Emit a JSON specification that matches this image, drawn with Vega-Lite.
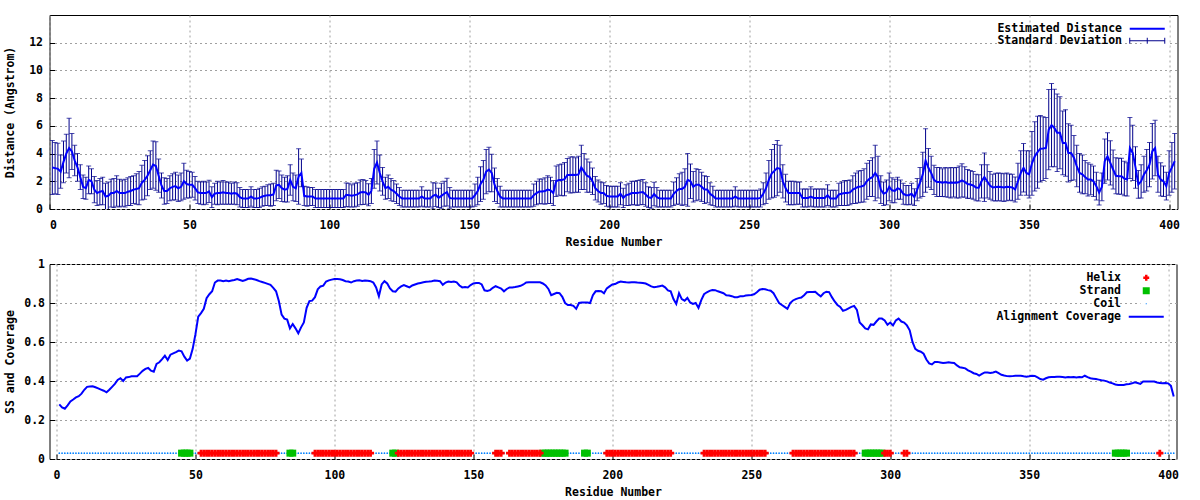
{
"$schema":"https://vega.github.io/schema/vega-lite/v6.json",
"background":"white",
"padding":{"left":3.5,"top":14,"right":5,"bottom":4},
"config":{
"view":{"stroke":"#000000","strokeWidth":1},
"axis":{"labelFont":"DejaVu Sans Mono","labelFontSize":11.5,"labelFontWeight":"bold","labelColor":"#000000","labelOverlap":false,"titleFont":"DejaVu Sans Mono","titleFontSize":11.5,"titleFontWeight":"bold","titleColor":"#000000","domain":false,"ticks":true,"tickColor":"#000000","tickSize":-5,"tickWidth":1,"grid":true,"gridColor":"#a0a0a0","gridDash":[2,3],"gridWidth":1},
"legend":{"labelFont":"DejaVu Sans Mono","labelFontSize":11.5,"labelFontWeight":"bold","labelColor":"#000000"}
},
"data":{"values":[
{"r":1,"d":3.0,"s":1.95,"c":0.28,"ss":"Coil"},
{"r":2,"d":2.95,"s":1.85,"c":0.265,"ss":"Coil"},
{"r":3,"d":2.9,"s":1.85,"c":0.258,"ss":"Coil"},
{"r":4,"d":2.7,"s":1.2,"c":0.275,"ss":"Coil"},
{"r":5,"d":3.4,"s":1.5,"c":0.295,"ss":"Coil"},
{"r":6,"d":4.0,"s":1.4,"c":0.305,"ss":"Coil"},
{"r":7,"d":4.4,"s":2.15,"c":0.316,"ss":"Coil"},
{"r":8,"d":4.15,"s":1.3,"c":0.322,"ss":"Coil"},
{"r":9,"d":3.5,"s":1.1,"c":0.335,"ss":"Coil"},
{"r":10,"d":3.0,"s":1.0,"c":0.355,"ss":"Coil"},
{"r":11,"d":2.3,"s":0.9,"c":0.37,"ss":"Coil"},
{"r":12,"d":1.6,"s":0.85,"c":0.372,"ss":"Coil"},
{"r":13,"d":1.5,"s":0.8,"c":0.373,"ss":"Coil"},
{"r":14,"d":2.1,"s":1.0,"c":0.368,"ss":"Coil"},
{"r":15,"d":2.0,"s":0.9,"c":0.362,"ss":"Coil"},
{"r":16,"d":1.4,"s":0.95,"c":0.356,"ss":"Coil"},
{"r":17,"d":1.15,"s":0.9,"c":0.35,"ss":"Coil"},
{"r":18,"d":1.25,"s":0.95,"c":0.342,"ss":"Coil"},
{"r":19,"d":1.3,"s":1.0,"c":0.355,"ss":"Coil"},
{"r":20,"d":0.9,"s":0.95,"c":0.37,"ss":"Coil"},
{"r":21,"d":0.95,"s":1.0,"c":0.385,"ss":"Coil"},
{"r":22,"d":1.15,"s":1.0,"c":0.405,"ss":"Coil"},
{"r":23,"d":1.15,"s":1.05,"c":0.414,"ss":"Coil"},
{"r":24,"d":1.3,"s":1.1,"c":0.4,"ss":"Coil"},
{"r":25,"d":1.15,"s":1.0,"c":0.418,"ss":"Coil"},
{"r":26,"d":1.15,"s":0.95,"c":0.42,"ss":"Coil"},
{"r":27,"d":1.15,"s":1.0,"c":0.424,"ss":"Coil"},
{"r":28,"d":1.25,"s":1.0,"c":0.424,"ss":"Coil"},
{"r":29,"d":1.3,"s":1.05,"c":0.424,"ss":"Coil"},
{"r":30,"d":1.4,"s":1.0,"c":0.438,"ss":"Coil"},
{"r":31,"d":1.45,"s":1.1,"c":0.452,"ss":"Coil"},
{"r":32,"d":1.5,"s":1.2,"c":0.462,"ss":"Coil"},
{"r":33,"d":1.9,"s":1.25,"c":0.467,"ss":"Coil"},
{"r":34,"d":2.1,"s":1.4,"c":0.453,"ss":"Coil"},
{"r":35,"d":2.4,"s":1.45,"c":0.448,"ss":"Coil"},
{"r":36,"d":2.8,"s":1.4,"c":0.488,"ss":"Coil"},
{"r":37,"d":3.2,"s":1.7,"c":0.496,"ss":"Coil"},
{"r":38,"d":3.1,"s":1.75,"c":0.512,"ss":"Coil"},
{"r":39,"d":2.4,"s":1.2,"c":0.53,"ss":"Coil"},
{"r":40,"d":1.7,"s":0.9,"c":0.508,"ss":"Coil"},
{"r":41,"d":1.3,"s":0.95,"c":0.535,"ss":"Coil"},
{"r":42,"d":1.3,"s":0.9,"c":0.542,"ss":"Coil"},
{"r":43,"d":1.5,"s":0.9,"c":0.548,"ss":"Coil"},
{"r":44,"d":1.6,"s":0.95,"c":0.556,"ss":"Coil"},
{"r":45,"d":1.65,"s":1.0,"c":0.552,"ss":"Strand"},
{"r":46,"d":1.5,"s":0.95,"c":0.525,"ss":"Strand"},
{"r":47,"d":1.6,"s":1.0,"c":0.505,"ss":"Strand"},
{"r":48,"d":2.0,"s":1.3,"c":0.515,"ss":"Strand"},
{"r":49,"d":1.8,"s":1.0,"c":0.565,"ss":"Coil"},
{"r":50,"d":1.75,"s":0.95,"c":0.64,"ss":"Coil"},
{"r":51,"d":1.75,"s":0.9,"c":0.73,"ss":"Coil"},
{"r":52,"d":1.5,"s":0.85,"c":0.748,"ss":"Helix"},
{"r":53,"d":1.2,"s":0.8,"c":0.77,"ss":"Helix"},
{"r":54,"d":1.15,"s":0.8,"c":0.825,"ss":"Helix"},
{"r":55,"d":1.15,"s":0.85,"c":0.845,"ss":"Helix"},
{"r":56,"d":1.15,"s":0.8,"c":0.86,"ss":"Helix"},
{"r":57,"d":1.27,"s":0.8,"c":0.905,"ss":"Helix"},
{"r":58,"d":0.85,"s":0.75,"c":0.915,"ss":"Helix"},
{"r":59,"d":1.1,"s":0.75,"c":0.915,"ss":"Helix"},
{"r":60,"d":1.15,"s":0.85,"c":0.912,"ss":"Helix"},
{"r":61,"d":1.15,"s":0.8,"c":0.915,"ss":"Helix"},
{"r":62,"d":1.2,"s":0.85,"c":0.912,"ss":"Helix"},
{"r":63,"d":1.15,"s":0.8,"c":0.915,"ss":"Helix"},
{"r":64,"d":1.15,"s":0.8,"c":0.918,"ss":"Helix"},
{"r":65,"d":1.1,"s":0.75,"c":0.923,"ss":"Helix"},
{"r":66,"d":1.15,"s":0.8,"c":0.918,"ss":"Helix"},
{"r":67,"d":1.1,"s":0.8,"c":0.913,"ss":"Helix"},
{"r":68,"d":0.85,"s":0.7,"c":0.918,"ss":"Helix"},
{"r":69,"d":0.75,"s":0.65,"c":0.924,"ss":"Helix"},
{"r":70,"d":0.75,"s":0.65,"c":0.926,"ss":"Helix"},
{"r":71,"d":0.75,"s":0.65,"c":0.922,"ss":"Helix"},
{"r":72,"d":0.9,"s":0.7,"c":0.918,"ss":"Helix"},
{"r":73,"d":0.75,"s":0.65,"c":0.912,"ss":"Helix"},
{"r":74,"d":0.75,"s":0.65,"c":0.908,"ss":"Helix"},
{"r":75,"d":0.8,"s":0.7,"c":0.903,"ss":"Helix"},
{"r":76,"d":0.9,"s":0.7,"c":0.898,"ss":"Helix"},
{"r":77,"d":0.95,"s":0.7,"c":0.893,"ss":"Helix"},
{"r":78,"d":1.0,"s":0.75,"c":0.878,"ss":"Helix"},
{"r":79,"d":1.0,"s":0.8,"c":0.86,"ss":"Helix"},
{"r":80,"d":1.05,"s":0.8,"c":0.81,"ss":"Coil"},
{"r":81,"d":1.7,"s":1.1,"c":0.74,"ss":"Coil"},
{"r":82,"d":1.75,"s":1.0,"c":0.72,"ss":"Coil"},
{"r":83,"d":1.5,"s":0.95,"c":0.715,"ss":"Coil"},
{"r":84,"d":1.4,"s":0.9,"c":0.67,"ss":"Strand"},
{"r":85,"d":1.45,"s":0.95,"c":0.692,"ss":"Strand"},
{"r":86,"d":2.1,"s":1.1,"c":0.67,"ss":"Coil"},
{"r":87,"d":1.6,"s":1.0,"c":0.645,"ss":"Coil"},
{"r":88,"d":1.5,"s":0.95,"c":0.675,"ss":"Coil"},
{"r":89,"d":2.35,"s":2.0,"c":0.7,"ss":"Coil"},
{"r":90,"d":2.6,"s":1.0,"c":0.775,"ss":"Coil"},
{"r":91,"d":0.95,"s":0.7,"c":0.81,"ss":"Coil"},
{"r":92,"d":0.9,"s":0.7,"c":0.812,"ss":"Coil"},
{"r":93,"d":0.9,"s":0.65,"c":0.83,"ss":"Helix"},
{"r":94,"d":0.9,"s":0.65,"c":0.87,"ss":"Helix"},
{"r":95,"d":0.75,"s":0.65,"c":0.885,"ss":"Helix"},
{"r":96,"d":0.75,"s":0.65,"c":0.889,"ss":"Helix"},
{"r":97,"d":0.75,"s":0.65,"c":0.91,"ss":"Helix"},
{"r":98,"d":0.75,"s":0.65,"c":0.916,"ss":"Helix"},
{"r":99,"d":0.75,"s":0.65,"c":0.92,"ss":"Helix"},
{"r":100,"d":0.75,"s":0.65,"c":0.923,"ss":"Helix"},
{"r":101,"d":0.75,"s":0.65,"c":0.923,"ss":"Helix"},
{"r":102,"d":0.75,"s":0.65,"c":0.922,"ss":"Helix"},
{"r":103,"d":0.75,"s":0.65,"c":0.918,"ss":"Helix"},
{"r":104,"d":0.75,"s":0.65,"c":0.912,"ss":"Helix"},
{"r":105,"d":0.75,"s":0.65,"c":0.91,"ss":"Helix"},
{"r":106,"d":1.03,"s":0.85,"c":0.905,"ss":"Helix"},
{"r":107,"d":1.0,"s":0.85,"c":0.912,"ss":"Helix"},
{"r":108,"d":0.95,"s":0.8,"c":0.915,"ss":"Helix"},
{"r":109,"d":1.0,"s":0.85,"c":0.916,"ss":"Helix"},
{"r":110,"d":1.05,"s":0.85,"c":0.913,"ss":"Helix"},
{"r":111,"d":1.2,"s":0.9,"c":0.915,"ss":"Helix"},
{"r":112,"d":1.22,"s":0.9,"c":0.914,"ss":"Helix"},
{"r":113,"d":1.2,"s":0.85,"c":0.912,"ss":"Helix"},
{"r":114,"d":1.03,"s":0.8,"c":0.905,"ss":"Coil"},
{"r":115,"d":1.3,"s":0.9,"c":0.88,"ss":"Coil"},
{"r":116,"d":2.9,"s":1.4,"c":0.835,"ss":"Coil"},
{"r":117,"d":3.35,"s":1.55,"c":0.895,"ss":"Coil"},
{"r":118,"d":2.6,"s":1.3,"c":0.912,"ss":"Coil"},
{"r":119,"d":2.0,"s":1.0,"c":0.9,"ss":"Coil"},
{"r":120,"d":1.5,"s":0.8,"c":0.875,"ss":"Coil"},
{"r":121,"d":1.6,"s":0.85,"c":0.86,"ss":"Strand"},
{"r":122,"d":1.4,"s":0.8,"c":0.858,"ss":"Strand"},
{"r":123,"d":1.3,"s":0.75,"c":0.875,"ss":"Helix"},
{"r":124,"d":1.1,"s":0.7,"c":0.885,"ss":"Helix"},
{"r":125,"d":0.9,"s":0.65,"c":0.892,"ss":"Helix"},
{"r":126,"d":0.75,"s":0.6,"c":0.886,"ss":"Helix"},
{"r":127,"d":0.75,"s":0.6,"c":0.88,"ss":"Helix"},
{"r":128,"d":0.75,"s":0.6,"c":0.89,"ss":"Helix"},
{"r":129,"d":0.75,"s":0.6,"c":0.895,"ss":"Helix"},
{"r":130,"d":0.75,"s":0.6,"c":0.9,"ss":"Helix"},
{"r":131,"d":0.75,"s":0.6,"c":0.903,"ss":"Helix"},
{"r":132,"d":0.75,"s":0.6,"c":0.906,"ss":"Helix"},
{"r":133,"d":0.9,"s":0.7,"c":0.909,"ss":"Helix"},
{"r":134,"d":0.75,"s":0.6,"c":0.91,"ss":"Helix"},
{"r":135,"d":0.75,"s":0.6,"c":0.912,"ss":"Helix"},
{"r":136,"d":0.75,"s":0.6,"c":0.915,"ss":"Helix"},
{"r":137,"d":0.95,"s":0.95,"c":0.914,"ss":"Helix"},
{"r":138,"d":1.03,"s":0.85,"c":0.912,"ss":"Helix"},
{"r":139,"d":0.8,"s":0.7,"c":0.893,"ss":"Helix"},
{"r":140,"d":0.95,"s":0.9,"c":0.905,"ss":"Helix"},
{"r":141,"d":1.1,"s":0.9,"c":0.91,"ss":"Helix"},
{"r":142,"d":1.22,"s":1.0,"c":0.908,"ss":"Helix"},
{"r":143,"d":0.8,"s":0.75,"c":0.91,"ss":"Helix"},
{"r":144,"d":0.75,"s":0.6,"c":0.906,"ss":"Helix"},
{"r":145,"d":0.75,"s":0.6,"c":0.89,"ss":"Helix"},
{"r":146,"d":0.75,"s":0.6,"c":0.88,"ss":"Helix"},
{"r":147,"d":0.75,"s":0.6,"c":0.882,"ss":"Helix"},
{"r":148,"d":0.75,"s":0.6,"c":0.88,"ss":"Helix"},
{"r":149,"d":0.75,"s":0.6,"c":0.892,"ss":"Helix"},
{"r":150,"d":0.75,"s":0.6,"c":0.9,"ss":"Coil"},
{"r":151,"d":0.75,"s":0.6,"c":0.903,"ss":"Coil"},
{"r":152,"d":1.0,"s":0.8,"c":0.903,"ss":"Coil"},
{"r":153,"d":1.3,"s":1.0,"c":0.895,"ss":"Coil"},
{"r":154,"d":1.8,"s":1.25,"c":0.865,"ss":"Coil"},
{"r":155,"d":2.1,"s":1.4,"c":0.862,"ss":"Coil"},
{"r":156,"d":2.7,"s":1.6,"c":0.866,"ss":"Coil"},
{"r":157,"d":2.85,"s":1.6,"c":0.878,"ss":"Coil"},
{"r":158,"d":2.6,"s":1.35,"c":0.886,"ss":"Helix"},
{"r":159,"d":1.75,"s":1.2,"c":0.88,"ss":"Helix"},
{"r":160,"d":1.3,"s":0.9,"c":0.874,"ss":"Helix"},
{"r":161,"d":0.9,"s":0.75,"c":0.86,"ss":"Coil"},
{"r":162,"d":0.75,"s":0.6,"c":0.872,"ss":"Coil"},
{"r":163,"d":0.75,"s":0.6,"c":0.88,"ss":"Helix"},
{"r":164,"d":0.75,"s":0.6,"c":0.88,"ss":"Helix"},
{"r":165,"d":0.75,"s":0.6,"c":0.882,"ss":"Helix"},
{"r":166,"d":0.75,"s":0.6,"c":0.885,"ss":"Helix"},
{"r":167,"d":0.75,"s":0.6,"c":0.888,"ss":"Helix"},
{"r":168,"d":0.75,"s":0.6,"c":0.895,"ss":"Helix"},
{"r":169,"d":0.75,"s":0.6,"c":0.905,"ss":"Helix"},
{"r":170,"d":0.75,"s":0.6,"c":0.906,"ss":"Helix"},
{"r":171,"d":0.75,"s":0.6,"c":0.906,"ss":"Helix"},
{"r":172,"d":0.75,"s":0.6,"c":0.906,"ss":"Helix"},
{"r":173,"d":1.0,"s":0.8,"c":0.906,"ss":"Helix"},
{"r":174,"d":1.15,"s":0.85,"c":0.906,"ss":"Helix"},
{"r":175,"d":1.27,"s":0.9,"c":0.9,"ss":"Strand"},
{"r":176,"d":1.27,"s":0.9,"c":0.89,"ss":"Strand"},
{"r":177,"d":1.3,"s":0.95,"c":0.872,"ss":"Strand"},
{"r":178,"d":1.4,"s":1.0,"c":0.84,"ss":"Strand"},
{"r":179,"d":1.35,"s":0.95,"c":0.846,"ss":"Strand"},
{"r":180,"d":1.15,"s":0.9,"c":0.852,"ss":"Strand"},
{"r":181,"d":2.0,"s":1.1,"c":0.85,"ss":"Strand"},
{"r":182,"d":2.1,"s":1.1,"c":0.832,"ss":"Strand"},
{"r":183,"d":2.1,"s":1.15,"c":0.8,"ss":"Strand"},
{"r":184,"d":2.15,"s":1.2,"c":0.79,"ss":"Coil"},
{"r":185,"d":2.45,"s":1.2,"c":0.79,"ss":"Coil"},
{"r":186,"d":2.45,"s":1.3,"c":0.785,"ss":"Coil"},
{"r":187,"d":2.47,"s":1.3,"c":0.77,"ss":"Coil"},
{"r":188,"d":2.45,"s":1.25,"c":0.8,"ss":"Coil"},
{"r":189,"d":2.5,"s":1.3,"c":0.803,"ss":"Coil"},
{"r":190,"d":3.0,"s":1.6,"c":0.803,"ss":"Strand"},
{"r":191,"d":2.7,"s":1.3,"c":0.803,"ss":"Strand"},
{"r":192,"d":2.4,"s":1.2,"c":0.8,"ss":"Coil"},
{"r":193,"d":2.3,"s":1.1,"c":0.84,"ss":"Coil"},
{"r":194,"d":2.0,"s":0.95,"c":0.86,"ss":"Coil"},
{"r":195,"d":1.5,"s":0.85,"c":0.862,"ss":"Coil"},
{"r":196,"d":1.3,"s":0.8,"c":0.86,"ss":"Coil"},
{"r":197,"d":1.15,"s":0.8,"c":0.85,"ss":"Coil"},
{"r":198,"d":1.15,"s":0.75,"c":0.875,"ss":"Helix"},
{"r":199,"d":0.95,"s":0.75,"c":0.885,"ss":"Helix"},
{"r":200,"d":0.9,"s":0.75,"c":0.895,"ss":"Helix"},
{"r":201,"d":0.9,"s":0.75,"c":0.897,"ss":"Helix"},
{"r":202,"d":0.9,"s":0.75,"c":0.905,"ss":"Helix"},
{"r":203,"d":0.9,"s":0.75,"c":0.91,"ss":"Helix"},
{"r":204,"d":1.1,"s":0.8,"c":0.908,"ss":"Helix"},
{"r":205,"d":0.8,"s":0.7,"c":0.906,"ss":"Helix"},
{"r":206,"d":1.0,"s":0.75,"c":0.905,"ss":"Helix"},
{"r":207,"d":1.05,"s":0.8,"c":0.906,"ss":"Helix"},
{"r":208,"d":1.15,"s":0.85,"c":0.907,"ss":"Helix"},
{"r":209,"d":1.15,"s":0.85,"c":0.905,"ss":"Helix"},
{"r":210,"d":1.15,"s":0.9,"c":0.904,"ss":"Helix"},
{"r":211,"d":1.2,"s":0.9,"c":0.903,"ss":"Helix"},
{"r":212,"d":1.22,"s":0.9,"c":0.9,"ss":"Helix"},
{"r":213,"d":1.05,"s":0.85,"c":0.893,"ss":"Helix"},
{"r":214,"d":0.85,"s":0.75,"c":0.885,"ss":"Helix"},
{"r":215,"d":0.8,"s":0.75,"c":0.881,"ss":"Helix"},
{"r":216,"d":1.08,"s":0.85,"c":0.883,"ss":"Helix"},
{"r":217,"d":0.85,"s":0.7,"c":0.886,"ss":"Helix"},
{"r":218,"d":0.75,"s":0.6,"c":0.889,"ss":"Helix"},
{"r":219,"d":0.75,"s":0.6,"c":0.88,"ss":"Helix"},
{"r":220,"d":0.75,"s":0.6,"c":0.865,"ss":"Helix"},
{"r":221,"d":0.75,"s":0.6,"c":0.86,"ss":"Helix"},
{"r":222,"d":0.75,"s":0.6,"c":0.82,"ss":"Coil"},
{"r":223,"d":1.1,"s":0.85,"c":0.795,"ss":"Coil"},
{"r":224,"d":1.3,"s":0.95,"c":0.85,"ss":"Coil"},
{"r":225,"d":1.45,"s":1.1,"c":0.82,"ss":"Coil"},
{"r":226,"d":1.45,"s":1.2,"c":0.812,"ss":"Coil"},
{"r":227,"d":1.6,"s":1.3,"c":0.826,"ss":"Coil"},
{"r":228,"d":2.1,"s":1.9,"c":0.803,"ss":"Coil"},
{"r":229,"d":2.0,"s":1.25,"c":0.795,"ss":"Coil"},
{"r":230,"d":1.6,"s":1.1,"c":0.8,"ss":"Coil"},
{"r":231,"d":1.75,"s":1.15,"c":0.775,"ss":"Coil"},
{"r":232,"d":1.75,"s":1.1,"c":0.815,"ss":"Coil"},
{"r":233,"d":1.6,"s":1.05,"c":0.845,"ss":"Helix"},
{"r":234,"d":1.4,"s":1.0,"c":0.855,"ss":"Helix"},
{"r":235,"d":1.4,"s":0.95,"c":0.862,"ss":"Helix"},
{"r":236,"d":1.1,"s":0.8,"c":0.867,"ss":"Helix"},
{"r":237,"d":0.95,"s":0.7,"c":0.866,"ss":"Helix"},
{"r":238,"d":0.75,"s":0.6,"c":0.86,"ss":"Helix"},
{"r":239,"d":0.75,"s":0.6,"c":0.855,"ss":"Helix"},
{"r":240,"d":0.75,"s":0.6,"c":0.85,"ss":"Helix"},
{"r":241,"d":0.75,"s":0.6,"c":0.84,"ss":"Helix"},
{"r":242,"d":0.75,"s":0.6,"c":0.838,"ss":"Helix"},
{"r":243,"d":0.75,"s":0.6,"c":0.835,"ss":"Helix"},
{"r":244,"d":0.75,"s":0.6,"c":0.83,"ss":"Helix"},
{"r":245,"d":0.9,"s":0.7,"c":0.83,"ss":"Helix"},
{"r":246,"d":0.75,"s":0.6,"c":0.834,"ss":"Helix"},
{"r":247,"d":0.75,"s":0.6,"c":0.834,"ss":"Helix"},
{"r":248,"d":0.75,"s":0.6,"c":0.838,"ss":"Helix"},
{"r":249,"d":0.75,"s":0.6,"c":0.84,"ss":"Helix"},
{"r":250,"d":0.75,"s":0.6,"c":0.841,"ss":"Helix"},
{"r":251,"d":0.75,"s":0.6,"c":0.845,"ss":"Helix"},
{"r":252,"d":0.75,"s":0.6,"c":0.855,"ss":"Helix"},
{"r":253,"d":0.75,"s":0.6,"c":0.868,"ss":"Helix"},
{"r":254,"d":0.8,"s":0.65,"c":0.872,"ss":"Helix"},
{"r":255,"d":1.1,"s":0.8,"c":0.87,"ss":"Helix"},
{"r":256,"d":1.5,"s":1.1,"c":0.866,"ss":"Coil"},
{"r":257,"d":2.1,"s":1.4,"c":0.863,"ss":"Coil"},
{"r":258,"d":2.55,"s":1.75,"c":0.85,"ss":"Coil"},
{"r":259,"d":2.75,"s":1.9,"c":0.825,"ss":"Coil"},
{"r":260,"d":2.95,"s":2.0,"c":0.8,"ss":"Coil"},
{"r":261,"d":2.9,"s":1.7,"c":0.79,"ss":"Coil"},
{"r":262,"d":2.0,"s":1.2,"c":0.78,"ss":"Coil"},
{"r":263,"d":1.5,"s":1.0,"c":0.77,"ss":"Coil"},
{"r":264,"d":1.15,"s":0.85,"c":0.8,"ss":"Coil"},
{"r":265,"d":1.15,"s":0.85,"c":0.813,"ss":"Helix"},
{"r":266,"d":1.15,"s":0.85,"c":0.82,"ss":"Helix"},
{"r":267,"d":1.15,"s":0.8,"c":0.825,"ss":"Helix"},
{"r":268,"d":1.15,"s":0.8,"c":0.828,"ss":"Helix"},
{"r":269,"d":0.8,"s":0.65,"c":0.84,"ss":"Helix"},
{"r":270,"d":0.8,"s":0.65,"c":0.855,"ss":"Helix"},
{"r":271,"d":0.8,"s":0.65,"c":0.856,"ss":"Helix"},
{"r":272,"d":0.9,"s":0.7,"c":0.857,"ss":"Helix"},
{"r":273,"d":0.8,"s":0.65,"c":0.858,"ss":"Helix"},
{"r":274,"d":0.8,"s":0.65,"c":0.845,"ss":"Helix"},
{"r":275,"d":0.8,"s":0.65,"c":0.834,"ss":"Helix"},
{"r":276,"d":0.8,"s":0.65,"c":0.85,"ss":"Helix"},
{"r":277,"d":0.8,"s":0.65,"c":0.858,"ss":"Helix"},
{"r":278,"d":1.0,"s":0.75,"c":0.856,"ss":"Helix"},
{"r":279,"d":0.75,"s":0.6,"c":0.83,"ss":"Helix"},
{"r":280,"d":0.75,"s":0.6,"c":0.808,"ss":"Helix"},
{"r":281,"d":0.75,"s":0.6,"c":0.79,"ss":"Helix"},
{"r":282,"d":1.05,"s":0.8,"c":0.78,"ss":"Helix"},
{"r":283,"d":1.1,"s":0.85,"c":0.76,"ss":"Helix"},
{"r":284,"d":1.15,"s":0.9,"c":0.765,"ss":"Helix"},
{"r":285,"d":1.15,"s":0.9,"c":0.773,"ss":"Helix"},
{"r":286,"d":1.2,"s":0.9,"c":0.78,"ss":"Helix"},
{"r":287,"d":1.4,"s":1.0,"c":0.785,"ss":"Helix"},
{"r":288,"d":1.5,"s":1.1,"c":0.765,"ss":"Coil"},
{"r":289,"d":1.6,"s":1.15,"c":0.7,"ss":"Coil"},
{"r":290,"d":1.63,"s":1.15,"c":0.686,"ss":"Coil"},
{"r":291,"d":1.7,"s":1.2,"c":0.67,"ss":"Strand"},
{"r":292,"d":2.0,"s":1.3,"c":0.665,"ss":"Strand"},
{"r":293,"d":2.2,"s":1.3,"c":0.69,"ss":"Strand"},
{"r":294,"d":2.3,"s":1.4,"c":0.688,"ss":"Strand"},
{"r":295,"d":2.6,"s":2.0,"c":0.705,"ss":"Strand"},
{"r":296,"d":2.3,"s":1.5,"c":0.72,"ss":"Strand"},
{"r":297,"d":1.4,"s":1.0,"c":0.72,"ss":"Strand"},
{"r":298,"d":1.1,"s":0.85,"c":0.71,"ss":"Helix"},
{"r":299,"d":1.2,"s":0.9,"c":0.688,"ss":"Helix"},
{"r":300,"d":1.6,"s":1.0,"c":0.7,"ss":"Helix"},
{"r":301,"d":1.35,"s":0.9,"c":0.685,"ss":"Coil"},
{"r":302,"d":1.3,"s":0.85,"c":0.71,"ss":"Coil"},
{"r":303,"d":1.5,"s":0.8,"c":0.72,"ss":"Coil"},
{"r":304,"d":1.4,"s":0.7,"c":0.705,"ss":"Coil"},
{"r":305,"d":1.1,"s":0.75,"c":0.7,"ss":"Helix"},
{"r":306,"d":1.0,"s":0.7,"c":0.685,"ss":"Helix"},
{"r":307,"d":1.0,"s":0.7,"c":0.66,"ss":"Coil"},
{"r":308,"d":1.1,"s":0.75,"c":0.6,"ss":"Coil"},
{"r":309,"d":0.86,"s":0.6,"c":0.565,"ss":"Coil"},
{"r":310,"d":1.4,"s":0.8,"c":0.555,"ss":"Coil"},
{"r":311,"d":1.9,"s":1.1,"c":0.55,"ss":"Coil"},
{"r":312,"d":2.5,"s":1.6,"c":0.54,"ss":"Coil"},
{"r":313,"d":3.5,"s":2.3,"c":0.51,"ss":"Coil"},
{"r":314,"d":2.97,"s":1.4,"c":0.49,"ss":"Coil"},
{"r":315,"d":2.6,"s":1.2,"c":0.485,"ss":"Coil"},
{"r":316,"d":2.1,"s":1.05,"c":0.497,"ss":"Coil"},
{"r":317,"d":1.95,"s":1.05,"c":0.498,"ss":"Coil"},
{"r":318,"d":1.95,"s":1.05,"c":0.495,"ss":"Coil"},
{"r":319,"d":1.9,"s":1.0,"c":0.492,"ss":"Coil"},
{"r":320,"d":1.94,"s":1.05,"c":0.494,"ss":"Coil"},
{"r":321,"d":1.9,"s":1.05,"c":0.496,"ss":"Coil"},
{"r":322,"d":1.9,"s":1.1,"c":0.494,"ss":"Coil"},
{"r":323,"d":1.92,"s":1.05,"c":0.492,"ss":"Coil"},
{"r":324,"d":1.9,"s":1.1,"c":0.48,"ss":"Coil"},
{"r":325,"d":1.95,"s":1.15,"c":0.47,"ss":"Coil"},
{"r":326,"d":2.06,"s":1.2,"c":0.468,"ss":"Coil"},
{"r":327,"d":1.95,"s":1.1,"c":0.465,"ss":"Coil"},
{"r":328,"d":1.8,"s":1.05,"c":0.455,"ss":"Coil"},
{"r":329,"d":1.77,"s":1.0,"c":0.448,"ss":"Coil"},
{"r":330,"d":1.7,"s":1.0,"c":0.44,"ss":"Coil"},
{"r":331,"d":1.55,"s":0.95,"c":0.436,"ss":"Coil"},
{"r":332,"d":1.53,"s":0.95,"c":0.428,"ss":"Coil"},
{"r":333,"d":2.0,"s":1.2,"c":0.436,"ss":"Coil"},
{"r":334,"d":2.3,"s":1.75,"c":0.444,"ss":"Coil"},
{"r":335,"d":2.0,"s":1.2,"c":0.443,"ss":"Coil"},
{"r":336,"d":1.7,"s":1.0,"c":0.441,"ss":"Coil"},
{"r":337,"d":1.55,"s":0.95,"c":0.444,"ss":"Coil"},
{"r":338,"d":1.58,"s":1.0,"c":0.448,"ss":"Coil"},
{"r":339,"d":1.6,"s":1.0,"c":0.44,"ss":"Coil"},
{"r":340,"d":1.58,"s":1.0,"c":0.432,"ss":"Coil"},
{"r":341,"d":1.55,"s":1.0,"c":0.428,"ss":"Coil"},
{"r":342,"d":1.6,"s":1.0,"c":0.425,"ss":"Coil"},
{"r":343,"d":1.58,"s":0.95,"c":0.424,"ss":"Coil"},
{"r":344,"d":1.55,"s":0.95,"c":0.425,"ss":"Coil"},
{"r":345,"d":1.41,"s":0.9,"c":0.427,"ss":"Coil"},
{"r":346,"d":2.0,"s":1.3,"c":0.427,"ss":"Coil"},
{"r":347,"d":2.6,"s":1.6,"c":0.427,"ss":"Coil"},
{"r":348,"d":2.97,"s":1.75,"c":0.424,"ss":"Coil"},
{"r":349,"d":2.6,"s":1.6,"c":0.422,"ss":"Coil"},
{"r":350,"d":2.5,"s":1.7,"c":0.424,"ss":"Coil"},
{"r":351,"d":3.3,"s":2.3,"c":0.427,"ss":"Coil"},
{"r":352,"d":3.8,"s":2.5,"c":0.426,"ss":"Coil"},
{"r":353,"d":4.1,"s":2.6,"c":0.418,"ss":"Coil"},
{"r":354,"d":4.35,"s":2.4,"c":0.41,"ss":"Coil"},
{"r":355,"d":4.36,"s":2.3,"c":0.407,"ss":"Coil"},
{"r":356,"d":4.4,"s":2.2,"c":0.414,"ss":"Coil"},
{"r":357,"d":5.73,"s":2.9,"c":0.419,"ss":"Coil"},
{"r":358,"d":6.05,"s":3.0,"c":0.42,"ss":"Coil"},
{"r":359,"d":5.85,"s":2.8,"c":0.42,"ss":"Coil"},
{"r":360,"d":5.5,"s":2.8,"c":0.422,"ss":"Coil"},
{"r":361,"d":5.5,"s":2.6,"c":0.422,"ss":"Coil"},
{"r":362,"d":4.77,"s":2.3,"c":0.42,"ss":"Coil"},
{"r":363,"d":4.77,"s":2.4,"c":0.418,"ss":"Coil"},
{"r":364,"d":4.05,"s":2.1,"c":0.42,"ss":"Coil"},
{"r":365,"d":4.05,"s":2.0,"c":0.419,"ss":"Coil"},
{"r":366,"d":3.7,"s":1.6,"c":0.42,"ss":"Coil"},
{"r":367,"d":3.1,"s":1.5,"c":0.418,"ss":"Coil"},
{"r":368,"d":2.6,"s":1.4,"c":0.42,"ss":"Coil"},
{"r":369,"d":2.5,"s":1.4,"c":0.419,"ss":"Coil"},
{"r":370,"d":2.3,"s":1.2,"c":0.427,"ss":"Coil"},
{"r":371,"d":2.13,"s":1.2,"c":0.42,"ss":"Coil"},
{"r":372,"d":2.13,"s":1.1,"c":0.414,"ss":"Coil"},
{"r":373,"d":2.0,"s":1.1,"c":0.412,"ss":"Coil"},
{"r":374,"d":1.65,"s":1.0,"c":0.41,"ss":"Coil"},
{"r":375,"d":1.18,"s":0.9,"c":0.407,"ss":"Coil"},
{"r":376,"d":1.6,"s":1.0,"c":0.404,"ss":"Coil"},
{"r":377,"d":3.45,"s":1.6,"c":0.402,"ss":"Coil"},
{"r":378,"d":3.8,"s":1.7,"c":0.398,"ss":"Coil"},
{"r":379,"d":3.33,"s":1.6,"c":0.392,"ss":"Coil"},
{"r":380,"d":2.85,"s":1.4,"c":0.388,"ss":"Coil"},
{"r":381,"d":2.4,"s":1.3,"c":0.382,"ss":"Strand"},
{"r":382,"d":2.37,"s":1.3,"c":0.38,"ss":"Strand"},
{"r":383,"d":2.37,"s":1.3,"c":0.38,"ss":"Strand"},
{"r":384,"d":2.2,"s":1.25,"c":0.38,"ss":"Strand"},
{"r":385,"d":2.13,"s":1.2,"c":0.383,"ss":"Strand"},
{"r":386,"d":4.4,"s":2.2,"c":0.385,"ss":"Coil"},
{"r":387,"d":4.05,"s":2.0,"c":0.388,"ss":"Coil"},
{"r":388,"d":3.0,"s":1.5,"c":0.393,"ss":"Coil"},
{"r":389,"d":1.77,"s":1.0,"c":0.39,"ss":"Coil"},
{"r":390,"d":2.0,"s":1.2,"c":0.385,"ss":"Coil"},
{"r":391,"d":2.5,"s":1.3,"c":0.397,"ss":"Coil"},
{"r":392,"d":2.8,"s":1.5,"c":0.398,"ss":"Coil"},
{"r":393,"d":3.2,"s":1.6,"c":0.398,"ss":"Coil"},
{"r":394,"d":4.17,"s":2.0,"c":0.398,"ss":"Coil"},
{"r":395,"d":4.4,"s":2.0,"c":0.397,"ss":"Coil"},
{"r":396,"d":2.5,"s":1.3,"c":0.392,"ss":"Coil"},
{"r":397,"d":2.13,"s":1.2,"c":0.39,"ss":"Helix"},
{"r":398,"d":2.0,"s":1.1,"c":0.388,"ss":"Coil"},
{"r":399,"d":1.65,"s":1.0,"c":0.39,"ss":"Coil"},
{"r":400,"d":2.6,"s":1.6,"c":0.388,"ss":"Coil"},
{"r":401,"d":3.0,"s":1.8,"c":0.375,"ss":"Coil"},
{"r":402,"d":3.45,"s":2.0,"c":0.32,"ss":"Coil"}
]},
"spacing":8,
"resolve":{"scale":{"color":"independent"},"legend":{"color":"independent"}},
"vconcat":[
{
"width":1128,"height":194,
"layer":[
{"mark":{"type":"errorbar","ticks":{"size":5},"thickness":1,"clip":true},
"encoding":{
"x":{"field":"r","type":"quantitative","scale":{"domain":[0,403],"nice":false,"zero":false},"axis":{"title":"Residue Number","values":[0,50,100,150,200,250,300,350,400],"tickCount":40,"format":"d","labelOverlap":false,"labelPadding":15,"titlePadding":6}},
"y":{"field":"d","type":"quantitative","scale":{"domain":[0,14],"nice":false},"axis":{"title":"Distance (Angstrom)","values":[0,2,4,6,8,10,12],"tickCount":20,"format":"d","labelOverlap":false,"labelPadding":12,"titlePadding":13.5}},
"yError":{"field":"s"},
"color":{"datum":"Standard Deviation","type":"nominal","scale":{"domain":["Estimated Distance","Standard Deviation"],"range":["#0000ff","#00008b"]},
"legend":{"title":null,"orient":"top-right","offset":8,"padding":0,"symbolSize":121,"labelAlign":"right","labelOffset":-31,"rowPadding":-1,"fillColor":"white",
"encode":{"symbols":{"update":{
"shape":{"signal":"datum.value === 'Standard Deviation' ? 'M-1,-0.17L-1,0.17M-1,0L1,0M1,-0.17L1,0.17M0,-0.17L0,0.17' : 'stroke'"},
"size":{"value":1225},
"fill":{"value":"transparent"},
"stroke":{"signal":"datum.value === 'Standard Deviation' ? '#00008b' : '#0000ff'"},
"strokeWidth":{"signal":"datum.value === 'Standard Deviation' ? 1 : 2"},
"opacity":{"value":1}}}}}}
}},
{"mark":{"type":"line","strokeWidth":2,"clip":true},
"encoding":{
"x":{"field":"r","type":"quantitative"},
"y":{"field":"d","type":"quantitative"},
"color":{"datum":"Estimated Distance","type":"nominal",
"legend":{"title":null,"orient":"top-right","offset":8,"padding":0,"symbolSize":121,"labelAlign":"right","labelOffset":-31,"rowPadding":-1,"fillColor":"white",
"encode":{"symbols":{"update":{
"shape":{"signal":"datum.value === 'Standard Deviation' ? 'M-1,-0.17L-1,0.17M-1,0L1,0M1,-0.17L1,0.17M0,-0.17L0,0.17' : 'stroke'"},
"size":{"value":1225},
"fill":{"value":"transparent"},
"stroke":{"signal":"datum.value === 'Standard Deviation' ? '#00008b' : '#0000ff'"},
"strokeWidth":{"signal":"datum.value === 'Standard Deviation' ? 1 : 2"},
"opacity":{"value":1}}}}}}
}}
]
},
{
"width":1127,"height":195,
"layer":[
{"transform":[{"filter":"datum.ss === 'Coil'"}],
"mark":{"type":"point","filled":true,"shape":"circle","size":3,"opacity":1},
"encoding":{
"x":{"field":"r","type":"quantitative","scale":{"domain":[-2.52,403],"nice":false,"zero":false},"axis":{"title":"Residue Number","values":[0,50,100,150,200,250,300,350,400],"tickCount":40,"format":"d","labelOverlap":false,"labelPadding":15,"titlePadding":6}},
"y":{"datum":0.03,"type":"quantitative","scale":{"domain":[0,1],"nice":false},"axis":{"title":"SS and Coverage","values":[0,0.2,0.4,0.6,0.8,1],"tickCount":20,"format":"~g","labelOverlap":false,"labelPadding":10,"titlePadding":8.5}},
"color":{"field":"ss","type":"nominal","scale":{"domain":["Helix","Strand","Coil","Alignment Coverage"],"range":["#ff0000","#00c000","#0080ff","#0000ff"]},
"legend":{"title":null,"orient":"top-right","offset":8,"padding":0,"symbolSize":121,"labelAlign":"right","labelOffset":-31,"rowPadding":0,"fillColor":"white",
"encode":{"symbols":{"update":{
"shape":{"signal":"datum.value === 'Helix' ? 'M-0.07,-0.17L0.07,-0.17L0.07,-0.07L0.17,-0.07L0.17,0.07L0.07,0.07L0.07,0.17L-0.07,0.17L-0.07,0.07L-0.17,0.07L-0.17,-0.07L-0.07,-0.07Z' : datum.value === 'Strand' ? 'M-0.2,-0.2L0.2,-0.2L0.2,0.2L-0.2,0.2Z' : datum.value === 'Coil' ? 'M-0.03,-0.03L0.03,-0.03L0.03,0.03L-0.03,0.03Z' : 'stroke'"},
"size":{"value":1225},
"fill":{"signal":"datum.value === 'Helix' ? '#ff0000' : datum.value === 'Strand' ? '#00c000' : datum.value === 'Coil' ? '#0080ff' : 'transparent'"},
"stroke":{"signal":"datum.value === 'Alignment Coverage' ? '#0000ff' : 'transparent'"},
"strokeWidth":{"signal":"datum.value === 'Alignment Coverage' ? 2 : 0"},
"opacity":{"value":1},"fillOpacity":{"value":1},"strokeOpacity":{"value":1}}}}}}
}},
{"transform":[{"filter":"datum.ss === 'Strand'"}],
"mark":{"type":"point","filled":true,"shape":"square","size":49,"opacity":1},
"encoding":{
"x":{"field":"r","type":"quantitative"},
"y":{"datum":0.03,"type":"quantitative"},
"color":{"field":"ss","type":"nominal",
"legend":{"title":null,"orient":"top-right","offset":8,"padding":0,"symbolSize":121,"labelAlign":"right","labelOffset":-31,"rowPadding":0,"fillColor":"white",
"encode":{"symbols":{"update":{
"shape":{"signal":"datum.value === 'Helix' ? 'M-0.07,-0.17L0.07,-0.17L0.07,-0.07L0.17,-0.07L0.17,0.07L0.07,0.07L0.07,0.17L-0.07,0.17L-0.07,0.07L-0.17,0.07L-0.17,-0.07L-0.07,-0.07Z' : datum.value === 'Strand' ? 'M-0.2,-0.2L0.2,-0.2L0.2,0.2L-0.2,0.2Z' : datum.value === 'Coil' ? 'M-0.03,-0.03L0.03,-0.03L0.03,0.03L-0.03,0.03Z' : 'stroke'"},
"size":{"value":1225},
"fill":{"signal":"datum.value === 'Helix' ? '#ff0000' : datum.value === 'Strand' ? '#00c000' : datum.value === 'Coil' ? '#0080ff' : 'transparent'"},
"stroke":{"signal":"datum.value === 'Alignment Coverage' ? '#0000ff' : 'transparent'"},
"strokeWidth":{"signal":"datum.value === 'Alignment Coverage' ? 2 : 0"},
"opacity":{"value":1},"fillOpacity":{"value":1},"strokeOpacity":{"value":1}}}}}}
}},
{"transform":[{"filter":"datum.ss === 'Helix'"}],
"mark":{"type":"point","filled":true,"shape":"cross","size":49,"opacity":1},
"encoding":{
"x":{"field":"r","type":"quantitative"},
"y":{"datum":0.03,"type":"quantitative"},
"color":{"field":"ss","type":"nominal",
"legend":{"title":null,"orient":"top-right","offset":8,"padding":0,"symbolSize":121,"labelAlign":"right","labelOffset":-31,"rowPadding":0,"fillColor":"white",
"encode":{"symbols":{"update":{
"shape":{"signal":"datum.value === 'Helix' ? 'M-0.07,-0.17L0.07,-0.17L0.07,-0.07L0.17,-0.07L0.17,0.07L0.07,0.07L0.07,0.17L-0.07,0.17L-0.07,0.07L-0.17,0.07L-0.17,-0.07L-0.07,-0.07Z' : datum.value === 'Strand' ? 'M-0.2,-0.2L0.2,-0.2L0.2,0.2L-0.2,0.2Z' : datum.value === 'Coil' ? 'M-0.03,-0.03L0.03,-0.03L0.03,0.03L-0.03,0.03Z' : 'stroke'"},
"size":{"value":1225},
"fill":{"signal":"datum.value === 'Helix' ? '#ff0000' : datum.value === 'Strand' ? '#00c000' : datum.value === 'Coil' ? '#0080ff' : 'transparent'"},
"stroke":{"signal":"datum.value === 'Alignment Coverage' ? '#0000ff' : 'transparent'"},
"strokeWidth":{"signal":"datum.value === 'Alignment Coverage' ? 2 : 0"},
"opacity":{"value":1},"fillOpacity":{"value":1},"strokeOpacity":{"value":1}}}}}}
}},
{"mark":{"type":"line","strokeWidth":2},
"encoding":{
"x":{"field":"r","type":"quantitative"},
"y":{"field":"c","type":"quantitative"},
"color":{"datum":"Alignment Coverage","type":"nominal",
"legend":{"title":null,"orient":"top-right","offset":8,"padding":0,"symbolSize":121,"labelAlign":"right","labelOffset":-31,"rowPadding":0,"fillColor":"white",
"encode":{"symbols":{"update":{
"shape":{"signal":"datum.value === 'Helix' ? 'M-0.07,-0.17L0.07,-0.17L0.07,-0.07L0.17,-0.07L0.17,0.07L0.07,0.07L0.07,0.17L-0.07,0.17L-0.07,0.07L-0.17,0.07L-0.17,-0.07L-0.07,-0.07Z' : datum.value === 'Strand' ? 'M-0.2,-0.2L0.2,-0.2L0.2,0.2L-0.2,0.2Z' : datum.value === 'Coil' ? 'M-0.03,-0.03L0.03,-0.03L0.03,0.03L-0.03,0.03Z' : 'stroke'"},
"size":{"value":1225},
"fill":{"signal":"datum.value === 'Helix' ? '#ff0000' : datum.value === 'Strand' ? '#00c000' : datum.value === 'Coil' ? '#0080ff' : 'transparent'"},
"stroke":{"signal":"datum.value === 'Alignment Coverage' ? '#0000ff' : 'transparent'"},
"strokeWidth":{"signal":"datum.value === 'Alignment Coverage' ? 2 : 0"},
"opacity":{"value":1},"fillOpacity":{"value":1},"strokeOpacity":{"value":1}}}}}}
}}
]
}
]
}
